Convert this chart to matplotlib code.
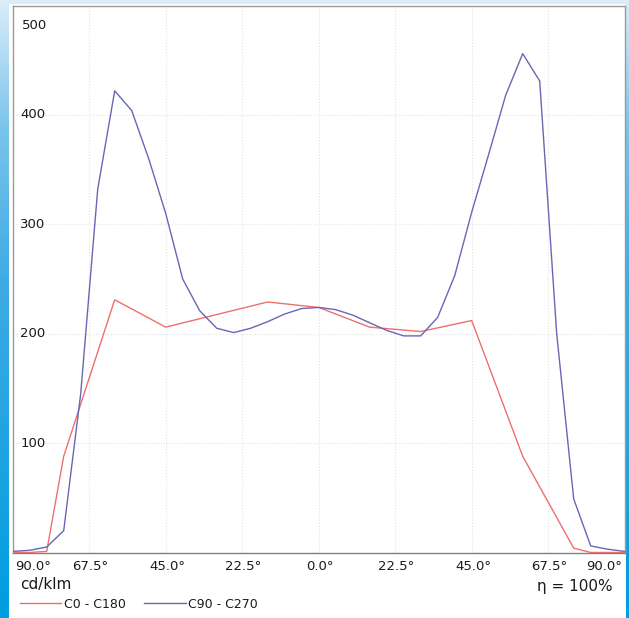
import matplotlib
matplotlib.use("Agg")
import matplotlib.pyplot as plt
import numpy as np
from matplotlib.colors import LinearSegmentedColormap
from matplotlib.patches import Rectangle

# ── Data ──────────────────────────────────────────────────────────
red_angles = [-90, -85, -80, -75, -60, -45, -15, 0, 15, 30, 45, 60, 75, 80, 85, 90]
red_values = [0, 0, 1, 88, 231, 206, 229, 224, 206, 202, 212, 88, 4, 0, 0, 0]

blue_angles = [-90, -85, -80, -75, -70, -65, -60, -55, -50, -45, -40, -35, -30,
               -25, -20, -15, -10, -5, 0, 5, 10, 15, 20, 25, 30, 35, 40, 45,
               50, 55, 60, 65, 70, 75, 80, 85, 90]
blue_values = [1, 2, 5, 20, 145, 332, 422, 404, 360, 310, 250, 221, 205,
               201, 205, 211, 218, 223, 224, 222, 217, 210, 203, 198, 198, 215, 253, 311,
               364, 418, 456, 431, 200, 49, 6, 3, 1]

x_ticks = [-90, -67.5, -45, -22.5, 0, 22.5, 45, 67.5, 90]
x_tick_labels = ["90.0°", "67.5°", "45.0°", "22.5°", "0.0°", "22.5°", "45.0°", "67.5°", "90.0°"]
y_ticks = [100, 200, 300, 400, 500]

series_labels = ["C0 - C180", "C90 - C270"]

# ── Style ─────────────────────────────────────────────────────────
RED = "#ee6f6f"
BLUE = "#6767b5"
GRID = "#e3e3e3"
BORDER = "#9a9a9a"
TEXT = "#1a1a1a"

plt.rcParams["font.family"] = ["DejaVu Sans"]

W, H = 629, 618
fig = plt.figure(figsize=(W / 100, H / 100), dpi=100)

# blue gradient frame behind everything
bg = fig.add_axes([0, 0, 1, 1])
cmap = LinearSegmentedColormap.from_list(
    "frame", [(0.0, "#009ddf"), (0.55, "#3fabe4"), (0.8, "#7cc5ec"), (1.0, "#dbedf9")])
grad = np.linspace(0, 1, 256).reshape(-1, 1)
bg.imshow(grad, aspect="auto", cmap=cmap, origin="lower", extent=[0, 1, 0, 1])
bg.set_axis_off()
bg.add_patch(Rectangle((9 / W, 0), 617 / W, 614 / H, facecolor="white",
                       edgecolor="none", transform=bg.transAxes))

# plot area
left, right = 12.7 / W, 624.7 / W
top, bottom = 1 - 5.5 / H, 1 - 552.5 / H
ax = fig.add_axes([left, bottom, right - left, top - bottom])
ax.set_facecolor("white")
ax.set_xlim(-90, 90)
ax.set_ylim(0, 500)
for s in ax.spines.values():
    s.set_color(BORDER)
    s.set_linewidth(1.0)
ax.spines["bottom"].set_color("#808080")

for xt in x_ticks[1:-1]:
    ax.axvline(xt, color=GRID, linewidth=0.8, linestyle=":", zorder=1)
for yt in y_ticks[:-1]:
    ax.axhline(yt, color=GRID, linewidth=0.8, linestyle=":", zorder=1)

ax.plot(red_angles, red_values, color=RED, linewidth=1.0, label=series_labels[0], zorder=3)
ax.plot(blue_angles, blue_values, color=BLUE, linewidth=1.0, label=series_labels[1], zorder=3)

ax.set_xticks([])
ax.set_yticks([])

# y tick labels drawn inside the plot
ytr = ax.get_yaxis_transform()
for yt in y_ticks:
    if yt == y_ticks[-1]:
        ax.annotate(str(yt), xy=(0, yt), xycoords=ytr, xytext=(6.5, -9.5),
                    textcoords="offset points", ha="left", va="top",
                    fontsize=9.5, color=TEXT)
    else:
        ax.annotate(str(yt), xy=(0, yt), xycoords=ytr, xytext=(5.5, 0),
                    textcoords="offset points", ha="left", va="center",
                    fontsize=9.5, color=TEXT)

# x tick labels below the axis
xtr = ax.get_xaxis_transform()
for i, (xt, lab) in enumerate(zip(x_ticks, x_tick_labels)):
    if i == 0:
        ha, dx = "left", 2
    elif i == len(x_ticks) - 1:
        ha, dx = "right", -2
    else:
        ha, dx = "center", 1
    ax.annotate(lab, xy=(xt, 0), xycoords=xtr, xytext=(dx, -5.5),
                textcoords="offset points", ha=ha, va="top",
                fontsize=9.5, color=TEXT)

fig.text(20 / W, 1 - 585 / H, "cd/klm", ha="left", va="center", fontsize=11, color=TEXT)
fig.text(613 / W, 1 - 587 / H, "η = 100%", ha="right", va="center", fontsize=11, color=TEXT)

fig.legend(loc="center left", bbox_to_anchor=(20 / W, 1 - 604 / H), ncol=2,
           frameon=False, fontsize=9, handlelength=3.3, handletextpad=0.2,
           columnspacing=1.5, borderpad=0, borderaxespad=0, labelcolor=TEXT)

fig.savefig("out.png", dpi=100)
